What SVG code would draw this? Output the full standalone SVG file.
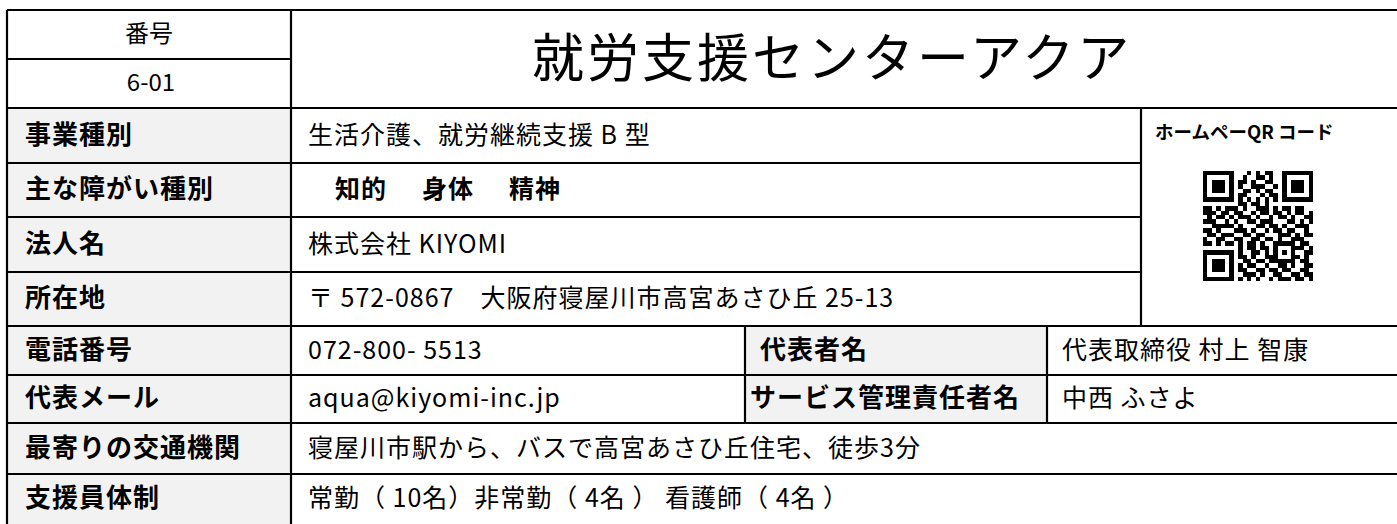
<svg xmlns="http://www.w3.org/2000/svg" width="1397" height="524" viewBox="0 0 1397 524">
<style>
.bg{fill:#ffffff}
.gray{fill:#f2f2f2}
.ln{stroke:#000;stroke-width:2.2;fill:none}
text{font-family:"Noto Sans CJK JP","Noto Sans",sans-serif;fill:#000}
.lbl{font-size:26px;font-weight:bold;letter-spacing:1px}
.val{font-size:25px;letter-spacing:1px}
.hd{font-size:24px;text-anchor:middle}
.title{font-size:52px;letter-spacing:3px}
.qrl{font-size:18.5px;font-weight:bold}
</style>
<rect class="bg" x="0" y="0" width="1397" height="524"/>
<g id="fills">
<rect class="gray" x="7" y="108" width="284" height="420"/>
<rect class="gray" x="745" y="326" width="302" height="97"/>
</g>
<g id="connectors">
<path class="ln" d="M7 10H1400M7 59H291M7 108H1400M7 163H1141M7 217H1141M7 272H1141M7 326H1400M7 375H1400M7 423H1400M7 474H1400"/>
<path class="ln" d="M7 10V530M291 10V530M1141 108V326M745 326V423M1047 326V423"/>
</g>
<g id="header">
<text class="hd" x="149" y="42">番号</text>
<text class="hd" x="151" y="91">6-01</text>
<text class="title" x="532" y="77">就労支援センターアクア</text>
</g>
<g id="row-jigyo">
<text class="lbl" x="25" y="143.5">事業種別</text>
<text class="val" x="308" y="143.5">生活介護、就労継続支援 B 型</text>
</g>
<g id="row-shogai">
<text class="lbl" x="25" y="198">主な障がい種別</text>
<text class="val" x="335" y="198" font-weight="bold">知的</text>
<text class="val" x="422" y="198" font-weight="bold">身体</text>
<text class="val" x="509" y="198" font-weight="bold">精神</text>
</g>
<g id="row-hojin">
<text class="lbl" x="25" y="252.5">法人名</text>
<text class="val" x="308" y="252.5">株式会社 KIYOMI</text>
</g>
<g id="row-shozai">
<text class="lbl" x="25" y="307">所在地</text>
<text class="val" x="308" y="307">〒 572-0867　大阪府寝屋川市高宮あさひ丘 25-13</text>
</g>
<g id="row-tel">
<text class="lbl" x="25" y="358.5">電話番号</text>
<text class="val" x="308" y="358.5">072-800- 5513</text>
<text class="lbl" x="760" y="358.5">代表者名</text>
<text class="val" x="1062" y="358.5">代表取締役 村上 智康</text>
</g>
<g id="row-mail">
<text class="lbl" x="25" y="407">代表メール</text>
<text class="val" x="308" y="407">aqua@kiyomi-inc.jp</text>
<text class="lbl" x="750" y="407">サービス管理責任者名</text>
<text class="val" x="1062" y="407">中西 ふさよ</text>
</g>
<g id="row-kotsu">
<text class="lbl" x="25" y="456.5">最寄りの交通機関</text>
<text class="val" x="308" y="456.5">寝屋川市駅から、バスで高宮あさひ丘住宅、徒歩3分</text>
</g>
<g id="row-shien">
<text class="lbl" x="25" y="507">支援員体制</text>
<text class="val" x="308" y="507">常勤（ 10名）非常勤（ 4名 ） 看護師（ 4名 ）</text>
</g>
<g id="qr">
<text class="qrl" x="1155" y="139">ホームペーQR コード</text>
<path transform="translate(1203 171) scale(4.4)" shape-rendering="crispEdges" fill="#000" d="M0 0h7v1h-7zM10 0h1v1h-1zM12 0h1v1h-1zM14 0h2v1h-2zM18 0h7v1h-7z
M0 1h1v1h-1zM6 1h1v1h-1zM9 1h1v1h-1zM12 1h2v1h-2zM15 1h1v1h-1zM18 1h1v1h-1zM24 1h1v1h-1z
M0 2h1v1h-1zM2 2h3v1h-3zM6 2h1v1h-1zM8 2h2v1h-2zM11 2h1v1h-1zM14 2h2v1h-2zM18 2h1v1h-1zM20 2h3v1h-3zM24 2h1v1h-1z
M0 3h1v1h-1zM2 3h3v1h-3zM6 3h1v1h-1zM8 3h1v1h-1zM11 3h3v1h-3zM16 3h1v1h-1zM18 3h1v1h-1zM20 3h3v1h-3zM24 3h1v1h-1z
M0 4h1v1h-1zM2 4h3v1h-3zM6 4h1v1h-1zM9 4h2v1h-2zM12 4h1v1h-1zM14 4h2v1h-2zM18 4h1v1h-1zM20 4h3v1h-3zM24 4h1v1h-1z
M0 5h1v1h-1zM6 5h1v1h-1zM8 5h2v1h-2zM13 5h1v1h-1zM15 5h2v1h-2zM18 5h1v1h-1zM24 5h1v1h-1z
M0 6h7v1h-7zM8 6h1v1h-1zM10 6h1v1h-1zM12 6h1v1h-1zM14 6h1v1h-1zM16 6h1v1h-1zM18 6h7v1h-7z
M8 7h2v1h-2zM11 7h2v1h-2zM14 7h1v1h-1z
M0 8h2v1h-2zM3 8h1v1h-1zM5 8h3v1h-3zM9 8h1v1h-1zM12 8h3v1h-3zM16 8h1v1h-1zM18 8h2v1h-2zM21 8h2v1h-2z
M0 9h3v1h-3zM4 9h2v1h-2zM7 9h2v1h-2zM11 9h1v1h-1zM13 9h2v1h-2zM16 9h2v1h-2zM19 9h1v1h-1zM21 9h2v1h-2zM24 9h1v1h-1z
M1 10h1v1h-1zM3 10h2v1h-2zM6 10h1v1h-1zM8 10h3v1h-3zM12 10h1v1h-1zM15 10h1v1h-1zM17 10h2v1h-2zM20 10h1v1h-1zM23 10h2v1h-2z
M0 11h3v1h-3zM5 11h1v1h-1zM7 11h1v1h-1zM10 11h2v1h-2zM13 11h3v1h-3zM19 11h2v1h-2zM22 11h1v1h-1zM24 11h1v1h-1z
M2 12h5v1h-5zM8 12h1v1h-1zM12 12h2v1h-2zM15 12h2v1h-2zM18 12h1v1h-1zM21 12h3v1h-3z
M0 13h2v1h-2zM3 13h1v1h-1zM7 13h3v1h-3zM11 13h1v1h-1zM14 13h1v1h-1zM16 13h2v1h-2zM19 13h2v1h-2zM23 13h1v1h-1z
M1 14h2v1h-2zM4 14h3v1h-3zM9 14h2v1h-2zM12 14h2v1h-2zM17 14h3v1h-3zM21 14h1v1h-1zM23 14h2v1h-2z
M0 15h1v1h-1zM3 15h2v1h-2zM7 15h2v1h-2zM11 15h2v1h-2zM14 15h2v1h-2zM17 15h1v1h-1zM20 15h3v1h-3z
M0 16h2v1h-2zM3 16h1v1h-1zM5 16h2v1h-2zM8 16h1v1h-1zM10 16h2v1h-2zM13 16h1v1h-1zM16 16h5v1h-5zM22 16h2v1h-2z
M8 17h1v1h-1zM10 17h2v1h-2zM13 17h2v1h-2zM16 17h1v1h-1zM20 17h3v1h-3zM24 17h1v1h-1z
M0 18h7v1h-7zM8 18h1v1h-1zM11 18h2v1h-2zM14 18h1v1h-1zM16 18h1v1h-1zM18 18h1v1h-1zM20 18h1v1h-1zM23 18h2v1h-2z
M0 19h1v1h-1zM6 19h1v1h-1zM8 19h2v1h-2zM11 19h1v1h-1zM14 19h3v1h-3zM20 19h2v1h-2zM23 19h1v1h-1z
M0 20h1v1h-1zM2 20h3v1h-3zM6 20h1v1h-1zM9 20h2v1h-2zM12 20h2v1h-2zM15 20h6v1h-6zM22 20h2v1h-2z
M0 21h1v1h-1zM2 21h3v1h-3zM6 21h1v1h-1zM8 21h1v1h-1zM10 21h2v1h-2zM14 21h1v1h-1zM17 21h2v1h-2zM20 21h1v1h-1zM23 21h2v1h-2z
M0 22h1v1h-1zM2 22h3v1h-3zM6 22h1v1h-1zM8 22h2v1h-2zM12 22h2v1h-2zM15 22h2v1h-2zM18 22h2v1h-2zM22 22h2v1h-2z
M0 23h1v1h-1zM6 23h1v1h-1zM9 23h3v1h-3zM13 23h1v1h-1zM16 23h2v1h-2zM20 23h2v1h-2zM23 23h2v1h-2z
M0 24h7v1h-7zM8 24h1v1h-1zM10 24h1v1h-1zM12 24h1v1h-1zM15 24h1v1h-1zM17 24h3v1h-3zM21 24h2v1h-2zM24 24h1v1h-1z"/>
</g>
</svg>
